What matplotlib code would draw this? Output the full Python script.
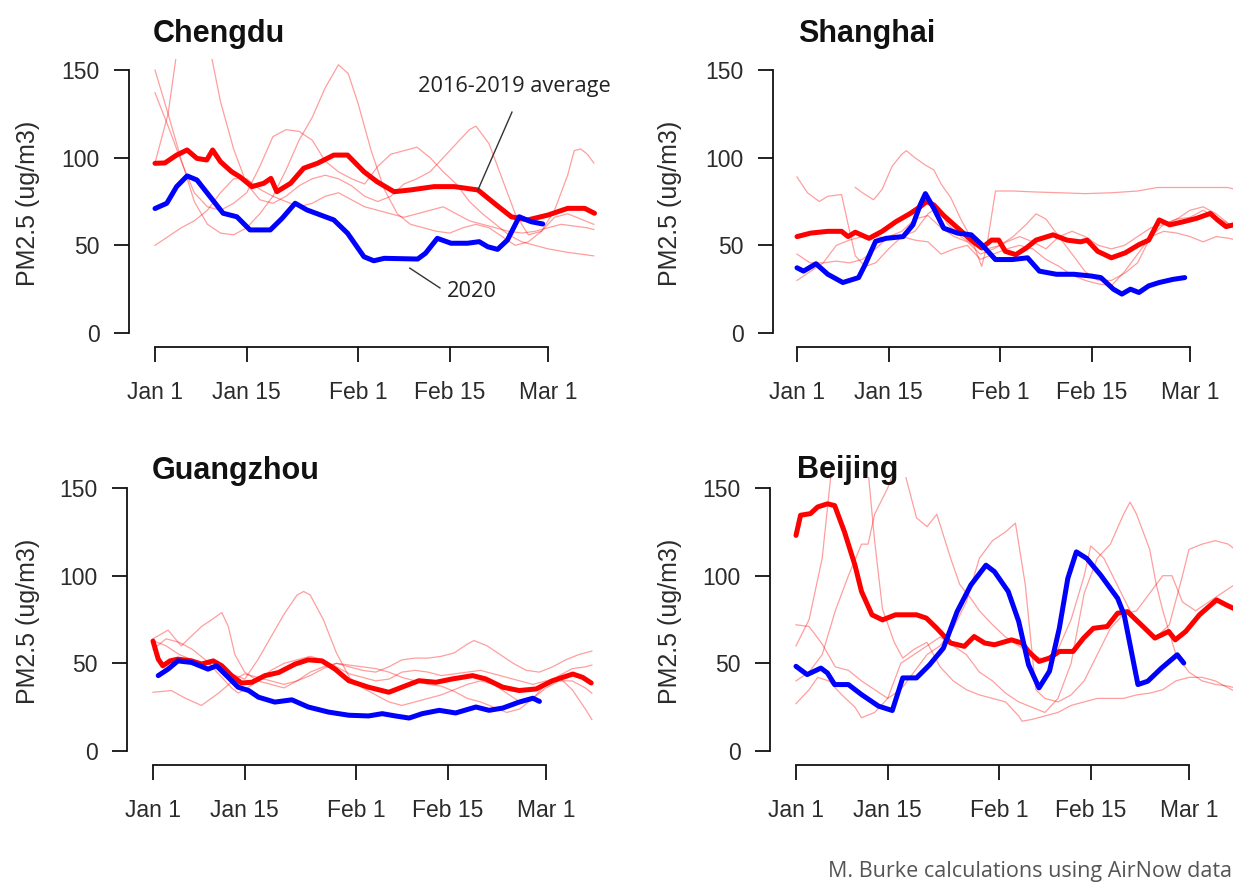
import matplotlib
matplotlib.use("Agg")
import matplotlib.pyplot as plt
import numpy as np

# ---------------------------------------------------------------------------
# Data (day 0 = Jan 1; values in ug/m3)
# ---------------------------------------------------------------------------
tick_days = [0, 14, 31, 45, 60]
tick_labels = ["Jan 1", "Jan 15", "Feb 1", "Feb 15", "Mar 1"]

# Chengdu
chengdu_avg_day = [0, 1.5, 3.3, 4.9, 6.4, 7.9, 8.8, 10, 11.7, 13, 14.8, 16.6, 17.7,
                   18.6, 20.7, 22.7, 24.8, 27.3, 29.4, 31.9, 33.9, 36.5, 39, 42.6,
                   45.7, 49.3, 51.8, 54.4, 56.9, 60, 63, 65.6, 67.1]
chengdu_avg = [96.8, 97, 101.5, 104.4, 99.6, 98.7, 104.4, 97.7, 92, 89, 83.5, 85.4,
               88.2, 80.6, 85.4, 94, 96.8, 101.5, 101.5, 92, 86.3, 80.6, 81.6, 83.5,
               83.5, 81.6, 74, 66.3, 64.5, 67.3, 71.1, 71.1, 68.3]
chengdu_2020_day = [0, 1.8, 3.3, 4.9, 6.4, 8.4, 10.4, 12.5, 14.5, 17.6, 19.4, 21.4,
                    23.2, 27.3, 29.4, 31.9, 33.4, 35, 40.1, 41.3, 43.1, 45.2, 47.7,
                    49.5, 50.8, 52.3, 53.8, 55.6, 57.4, 59.2]
chengdu_2020 = [71, 74, 83.5, 89.6, 87.3, 77.8, 68.3, 66.3, 58.8, 58.8, 65.4, 74,
                70.2, 64.5, 56.9, 43.5, 41.2, 42.6, 42.2, 45.5, 54, 51.2, 51.2, 52.1,
                49.2, 47.7, 53, 66.3, 63.5, 62.2]
chengdu_years_day = [
    [0, 2, 4, 6, 8, 10, 12, 14, 16, 18, 20, 22, 24, 26, 28, 29.5, 31, 33, 35, 37,
     39, 41, 43, 45, 47, 49, 51, 53, 55, 57, 59, 61, 63, 65, 67],
    [0, 2, 4, 6, 8, 10, 12, 14, 16, 18, 20, 22, 24, 26, 28, 30, 32, 34, 36, 38, 40,
     42, 44, 46, 48, 50, 52, 54, 56, 58, 60, 63, 65, 67],
    [0, 2, 3.5, 5, 7, 8.5, 10, 12, 14, 16, 18, 20, 22, 24, 26, 28, 30, 32, 34, 36,
     38, 40, 42, 44, 46, 48, 49, 51, 53, 55, 57, 59, 61, 63, 64, 65, 66, 67],
    [0, 2, 4, 6, 8, 10, 12, 14, 16, 18, 20, 22, 24, 26, 28, 30, 32, 34, 36, 38, 40,
     42, 44, 46, 48, 50, 52, 54, 56, 58, 60, 62, 64, 66, 67],
]
chengdu_years = [
    [150, 125, 99, 75, 62, 57, 56, 60, 68, 78, 93, 110, 123, 140, 153, 148, 131, 104,
     82, 68, 62, 60, 58, 57, 60, 62, 60, 55, 50, 52, 58, 66, 68, 65, 62],
    [137, 118, 98, 80, 72, 70, 74, 80, 95, 112, 116, 115, 110, 98, 92, 88, 85, 95,
     102, 104, 106, 100, 92, 85, 75, 68, 62, 56, 52, 50, 48, 46, 45, 44],
    [97, 125, 165, 175, 175, 160, 132, 105, 85, 76, 74, 78, 84, 88, 90, 88, 84, 78,
     75, 78, 85, 88, 92, 100, 108, 116, 118, 108, 88, 68, 56, 58, 70, 90, 104, 105,
     102, 97],
    [50, 55, 60, 64, 70, 80, 88, 88, 82, 78, 75, 72, 74, 78, 80, 76, 72, 70, 68, 66,
     68, 70, 72, 68, 64, 62, 60, 58, 57, 58, 60, 62, 61, 60, 59],
]

# Shanghai
shanghai_avg_day = [0, 2.1, 4.7, 6.8, 7.8, 8.9, 11, 13, 15.1, 17.2, 18.8, 19.8, 20.9,
                    22.4, 24.5, 26.6, 28.2, 29.7, 30.8, 31.8, 33.4, 35, 36.5, 39.1,
                    41.2, 43.3, 44.3, 45.9, 48, 50.1, 52.2, 53.7, 55.3, 56.9, 59, 61,
                    63.1, 64.2, 65.5, 67]
shanghai_avg = [55, 57, 58, 58, 55, 57.5, 54, 58, 63.5, 68, 72, 75, 73, 67, 60, 53,
                48.5, 53, 53, 46.6, 44.7, 48.5, 53, 56, 53, 52, 53, 46.6, 42.9, 45.7,
                50.4, 53, 64.5, 61.7, 63.5, 65.4, 68.2, 64.5, 60.7, 62]
shanghai_2020_day = [0, 1, 2.9, 4.7, 7, 9.4, 10.4, 12, 13.6, 16.2, 17.7, 18.8, 19.6,
                     20.9, 22.4, 24.5, 26.6, 28.2, 30.3, 32.9, 35.2, 37, 39.6, 42.3,
                     44.9, 46.4, 48.3, 49.6, 50.9, 52.2, 53.7, 55.3, 57.4, 59.2]
shanghai_2020 = [37.2, 35.3, 39.5, 33.5, 28.8, 31.6, 39, 52.3, 54, 55, 61.7, 73,
                 79.5, 71, 59.8, 57, 56, 50.4, 41.9, 41.9, 42.9, 35.3, 33.5, 33.5,
                 32.5, 31.6, 25, 22.2, 25, 23.1, 26.9, 28.8, 30.6, 31.6]
shanghai_years_day = [
    [0, 1.6, 3.4, 4.7, 6.8, 7.8, 8.9, 10.4, 12, 14, 16, 18, 20, 21.5, 23, 25, 27, 29,
     31, 33, 35, 36.5, 38, 40, 42, 44, 46, 48, 50, 52, 54, 56, 58, 60, 62, 64, 66, 67],
    [8.9, 10, 11.7, 13, 14.5, 16, 16.7, 18, 19.5, 20.9, 22, 23.5, 25, 26.6, 28.2, 29,
     30.3, 33, 36, 40, 44, 48, 52, 55, 60, 65.7, 67],
    [0, 2, 4, 6, 8, 10, 12, 14, 16, 18, 20, 22, 24, 26, 28, 30, 32, 34, 36, 38, 40,
     42, 44, 46, 48, 50, 52, 54, 56, 58, 60, 62, 64, 66, 67],
    [0, 2, 4, 6, 8, 10, 12, 14, 16, 18, 20, 22, 24, 26, 28, 30, 32, 34, 36, 38, 40,
     42, 44, 46, 48, 50, 52, 54, 56, 58, 60, 62, 64, 66, 67],
]
shanghai_years = [
    [89, 80, 75, 78, 79, 62, 44, 38, 40, 48, 55, 58, 68, 72, 62, 55, 50, 48, 50, 55,
     62, 68, 65, 55, 45, 35, 30, 30, 34, 40, 55, 62, 65, 70, 72, 68, 62, 60],
    [83, 80, 76, 82, 95, 102, 104, 100, 96, 93, 85, 77, 65, 54, 38, 50, 81, 81, 80.5,
     80, 79.5, 80, 81, 83, 83, 83, 82],
    [45, 40, 40, 41, 40, 42, 48, 55, 58, 65, 67, 60, 55, 52, 45, 48, 52, 55, 52, 48,
     55, 58, 55, 50, 48, 50, 55, 60, 62, 65, 66, 70, 66, 62, 60],
    [30, 35, 40, 50, 53, 55, 55, 54, 55, 53, 52, 45, 48, 50, 42, 45, 48, 50, 48, 42,
     38, 33, 30, 28, 27, 35, 45, 55, 58, 57, 55, 52, 55, 54, 53],
]

# Guangzhou
guangzhou_avg_day = [0, 0.8, 1.5, 2.6, 3.8, 5.9, 7.4, 9.2, 10.5, 12, 13.5, 15.1, 17.1,
                     19.2, 21.7, 23.7, 25.8, 27.8, 29.9, 32.9, 36, 38, 40.6, 43.2,
                     45.7, 48.8, 50.8, 53.4, 55.9, 58.5, 61, 64.1, 65.6, 66.9]
guangzhou_avg = [62.7, 52.4, 48.6, 51.4, 52.4, 51.4, 49.6, 51.4, 48.6, 43, 38.8,
                 39.2, 43, 44.8, 49.6, 52, 51.4, 46.7, 40.1, 36.4, 33.5, 36.4, 40.1,
                 39.2, 41.1, 43, 41.1, 36.4, 34.5, 35.4, 40.1, 43.9, 42, 38.8]
guangzhou_2020_day = [0.8, 2.3, 3.8, 5.9, 8.4, 9.7, 11.5, 13, 14.6, 16.1, 18.6, 21.2,
                      23.7, 26.8, 29.9, 32.9, 35, 37, 39.1, 41.1, 43.7, 46.2, 49.3,
                      51.3, 53.4, 55.9, 58, 59]
guangzhou_2020 = [43, 46.7, 51.4, 50.5, 46.7, 48.6, 42, 36.4, 34.5, 30.7, 27.9, 29.2,
                  25.1, 22.2, 20.4, 20, 21.3, 20, 18.8, 21.3, 23.2, 21.7, 25.1, 23.2,
                  24.5, 27.9, 30.1, 28.3]
guangzhou_years_day = [
    [0, 2, 4, 6, 8, 10, 12, 14, 16, 18, 20, 22, 23, 24, 26, 28, 30, 32, 34, 36, 38,
     40, 42, 44, 46, 48, 50, 52, 54, 56, 58, 60, 62, 64, 66, 67],
    [0, 2.3, 4.3, 6, 7.4, 9, 10.5, 11.5, 12.5, 14, 16, 18, 20, 22, 24, 26, 28, 30, 32,
     34, 36, 38, 40, 42, 44, 46, 48, 49, 51, 53, 55, 57, 59, 61, 63, 65, 67],
    [0, 2.8, 5, 7.4, 10, 12.5, 14, 16, 18, 20, 22, 24, 26, 28, 30, 32, 34, 36, 38, 40,
     42, 44, 46, 48, 50, 52, 54, 56, 58, 60, 62, 64, 66, 67],
    [0, 2, 4, 6, 8, 10, 12, 13, 14, 16, 18, 20, 22, 24, 26, 28, 30, 32, 34, 36, 38,
     40, 42, 44, 46, 48, 50, 52, 54, 56, 58, 60, 62, 64, 66, 67],
]
guangzhou_years = [
    [63, 60, 55, 52, 50, 48, 44, 41, 52, 65, 78, 89, 91, 89, 75, 56, 42, 36, 32, 28,
     26, 28, 30, 32, 35, 38, 40, 38, 33, 28, 30, 38, 43, 47, 48, 49],
    [64, 69, 60, 66, 71, 75, 79, 71, 55, 45, 40, 38, 36, 40, 45, 48, 50, 48, 46, 45,
     48, 52, 53, 53, 54, 56, 61, 63, 60, 55, 50, 46, 45, 48, 52, 55, 57],
    [33.5, 34.5, 30, 26, 33, 41, 44, 42, 40, 38, 40, 43, 47, 50, 49, 48, 47, 45, 42,
     40, 38, 37, 34, 30, 28, 25, 22, 24, 30, 36, 40, 40, 36, 33],
    [58, 64, 62, 58, 52, 44, 36, 33, 35, 40, 46, 50, 52, 54, 52, 48, 44, 42, 40, 41,
     45, 46, 45, 43, 44, 45, 46, 44, 42, 40, 38, 40, 42, 35, 24, 18],
]

# Beijing
beijing_avg_day = [0, 0.7, 2.2, 3.3, 4.8, 5.9, 7.4, 9, 10, 11.6, 13.2, 15.2, 18.4,
                   19.9, 21.5, 23.6, 25.7, 27.2, 28.8, 30.3, 32.9, 34.5, 35.5, 37.1,
                   38.7, 40.2, 42.3, 43.9, 45.4, 47.5, 49.1, 50.6, 52.7, 54.8, 56.9,
                   57.9, 59.5, 61.6, 64.2, 65.7, 67]
beijing_avg = [123, 134.5, 135.4, 139.2, 141, 140, 125, 106, 91, 77.7, 74.8, 77.7,
               77.7, 75.8, 70, 61.6, 59.7, 65.3, 61.6, 60.6, 63.4, 61.6, 56.8, 51.1,
               53, 56.8, 56.8, 64.4, 70, 71, 78.6, 79.5, 72, 64.4, 68.2, 63.4, 68.2,
               77.7, 86.2, 83.3, 81]
beijing_2020_day = [0, 1.7, 3.8, 4.8, 5.9, 8, 10, 12.6, 14.7, 16.3, 18.4, 20.4, 22.5,
                    24.6, 26.7, 29, 30.3, 32.4, 34, 35.5, 37.1, 38.7, 40.2, 41.5, 42.8,
                    44.4, 46.5, 49.1, 50.1, 52.2, 53.7, 55.8, 58.2, 59.2]
beijing_2020 = [48.3, 43.6, 47.3, 44.5, 37.9, 37.9, 32.2, 25.6, 23.1, 41.7, 41.7,
                49.2, 58.7, 79.5, 94.7, 106, 102.3, 91, 73.9, 49.2, 36, 45.5, 70, 98.5,
                113.6, 109.8, 100.4, 87.1, 77.7, 37.9, 39.8, 47.3, 54.9, 50.2]
beijing_years_day = [
    [0, 2, 4, 6, 8, 10, 12, 14, 16, 18, 20, 22, 24, 26, 28, 30, 32, 33.5, 35, 36.6,
     38, 40, 42, 44, 46, 48, 50, 52, 54, 56, 57.4, 59, 61, 63, 65, 67],
    [0, 2, 3.3, 5, 7, 9, 10, 12, 14, 16, 18, 20, 22, 24, 26, 28, 30, 32, 34, 36, 38,
     40, 42, 44, 46, 48, 50, 51, 52, 54, 55, 56, 58, 60, 62, 64, 66, 67],
    [0, 2, 4, 5.4, 7, 9, 11, 12, 13.2, 15, 16.3, 18, 20, 22, 24, 26, 28, 30, 32, 34,
     34.5, 36, 38, 40, 42, 44, 46, 48, 50, 52, 54, 56, 58, 60, 62, 64, 66, 67],
    [0, 2, 4, 6, 8, 10, 11, 12, 14, 15, 16.5, 18.4, 20, 21.5, 23.6, 25, 26.7, 28, 30,
     32, 34, 36, 38, 40, 42, 44, 45, 47, 49, 51, 53, 55, 57, 59, 60, 62, 64, 66, 67],
]
beijing_years = [
    [72, 71, 61, 48, 46, 40, 35, 30, 35, 45, 55, 60, 70, 85, 110, 120, 125, 130, 95,
     35, 30, 28, 32, 40, 55, 70, 78, 80, 90, 100, 100, 85, 80, 85, 90, 95],
    [27, 35, 42, 40, 32, 25, 19, 22, 30, 50, 55, 60, 65, 60, 55, 45, 40, 33, 28, 25,
     22, 30, 50, 90, 110, 118, 135, 142, 135, 115, 95, 80, 55, 45, 40, 38, 37, 36],
    [60, 75, 110, 160, 160, 160, 160, 120, 81, 62, 53, 58, 62, 48, 40, 35, 32, 30, 28,
     20, 17, 18, 20, 22, 26, 28, 30, 30, 30, 32, 33, 35, 40, 42, 42, 40, 36, 34],
    [40, 45, 55, 80, 100, 118, 118, 135, 150, 160, 160, 133, 128, 135, 110, 95, 87, 80,
     72, 65, 60, 55, 52, 58, 75, 100, 117, 110, 95, 80, 70, 65, 72, 100, 115, 118, 120,
     118, 115],
]

# ---------------------------------------------------------------------------
# Figure (laid out in pixels of the 1233 x 885 reference)
# ---------------------------------------------------------------------------
W, H = 1233, 885
DPI = 100
PX_PER_DAY = 6.55
PX_PER_UNIT = 1.753

plt.rcParams.update({
    "font.family": ["Liberation Sans", "DejaVu Sans"],
    "font.size": 16,
})

fig = plt.figure(figsize=(W / DPI, H / DPI), dpi=DPI)
fig.patch.set_facecolor("white")

THIN = (1.0, 0.0, 0.0, 0.38)
TICK_COL = "#2b2b2b"


def add_panel(spine_x, day0_x, axis_y, zero_y, top_y):
    left = spine_x
    right = day0_x + 70 * PX_PER_DAY
    ax = fig.add_axes([left / W, 1 - axis_y / H, (right - left) / W,
                       (axis_y - top_y) / H])
    ax.set_xlim((spine_x - day0_x) / PX_PER_DAY, 70)
    ax.set_ylim((zero_y - axis_y) / PX_PER_UNIT, (zero_y - top_y) / PX_PER_UNIT)
    ax.patch.set_alpha(0)
    for s in ("top", "right"):
        ax.spines[s].set_visible(False)
    ax.spines["left"].set_bounds(0, 150)
    ax.spines["bottom"].set_bounds(0, 60)
    for s in ("left", "bottom"):
        ax.spines[s].set_linewidth(1.3)
        ax.spines[s].set_color("#111111")
    ax.set_yticks([0, 50, 100, 150])
    ax.set_xticks(tick_days)
    ax.set_xticklabels(tick_labels)
    ax.tick_params(axis="both", length=10.8, width=1.3, color="#111111",
                   labelsize=16.5, labelcolor=TICK_COL, direction="out")
    ax.tick_params(axis="y", pad=10.5)
    ax.tick_params(axis="x", pad=14)
    return ax


def draw_city(ax, years_day, years, avg_day, avg, cur_day, cur):
    for d, v in zip(years_day, years):
        ax.plot(d, v, color=THIN, lw=0.9, solid_joinstyle="round", zorder=2)
    ax.plot(avg_day, avg, color="#ff0000", lw=3.6, solid_joinstyle="round",
            solid_capstyle="round", zorder=3)
    ax.plot(cur_day, cur, color="#0000ff", lw=3.6, solid_joinstyle="round",
            solid_capstyle="round", zorder=4)


ax_cd = add_panel(129, 155, 347, 333, 59)
ax_sh = add_panel(773, 797, 347, 333, 59)
ax_gz = add_panel(127, 153, 765, 751, 477)
ax_bj = add_panel(770, 796, 765, 751, 477)

draw_city(ax_cd, chengdu_years_day, chengdu_years, chengdu_avg_day, chengdu_avg,
          chengdu_2020_day, chengdu_2020)
draw_city(ax_sh, shanghai_years_day, shanghai_years, shanghai_avg_day, shanghai_avg,
          shanghai_2020_day, shanghai_2020)
draw_city(ax_gz, guangzhou_years_day, guangzhou_years, guangzhou_avg_day,
          guangzhou_avg, guangzhou_2020_day, guangzhou_2020)
draw_city(ax_bj, beijing_years_day, beijing_years, beijing_avg_day, beijing_avg,
          beijing_2020_day, beijing_2020)

# titles and y labels
for x, y, name in [(153, 42, "Chengdu"), (798, 42, "Shanghai"),
                   (152, 479, "Guangzhou"), (797, 478, "Beijing")]:
    fig.text(x / W, 1 - y / H, name, fontsize=22, fontweight="bold",
             ha="left", va="baseline", color="#111111")
for x, y in [(28, 203), (670, 203), (28, 621), (670, 621)]:
    fig.text(x / W, 1 - y / H, "PM2.5 (ug/m3)", rotation=90, fontsize=18,
             ha="center", va="center", color=TICK_COL)

# annotations on the Chengdu panel
ANN = ["Open Sans", "DejaVu Sans"]
ax_cd.plot([49.3, 54.5], [81.6, 126], color="#333333", lw=1.0, clip_on=False,
           zorder=5)
ax_cd.text(40.2, 137.5, "2016-2019 average", family=ANN, fontsize=15.7,
           color="#222222", ha="left", va="baseline")
ax_cd.plot([38.9, 43.5], [37, 25.7], color="#333333", lw=1.0, clip_on=False,
           zorder=5)
ax_cd.text(44.6, 20.5, "2020", family=ANN, fontsize=15.7, color="#222222",
           ha="left", va="baseline")

# source note, kept just inside the right edge
fig.text(828 / W, 1 - 877 / H, "M. Burke calculations using AirNow data",
         family=ANN, fontsize=15.5, color="#555555", ha="left", va="baseline")

fig.savefig("out.png", dpi=DPI, facecolor="white")
